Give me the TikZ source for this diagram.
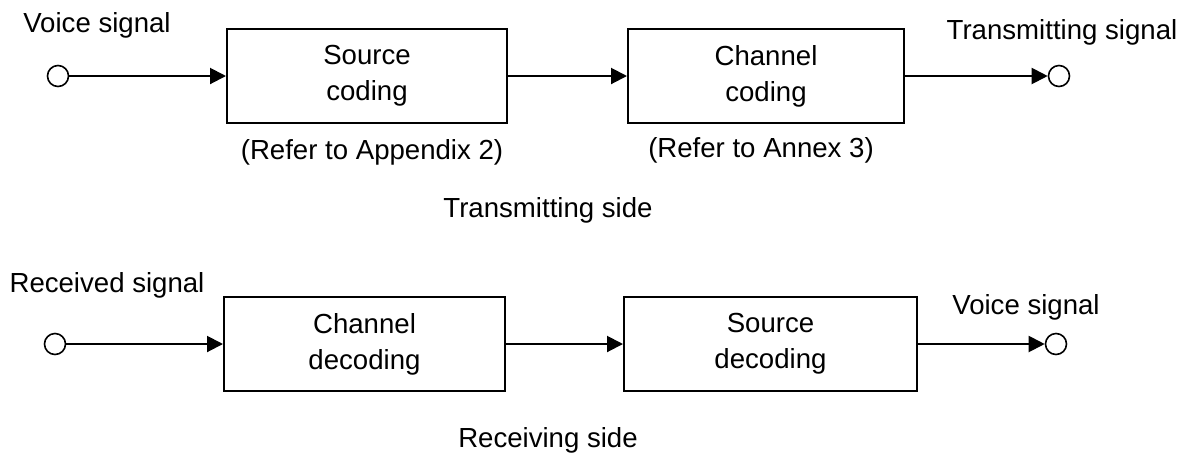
\documentclass[tikz,border=0pt]{standalone}
\usepackage{fontspec}
\setmainfont{Liberation Sans}
\usetikzlibrary{arrows.meta}

\begin{document}
\begin{tikzpicture}[
    x=0.5pt, y=-0.5pt,
    font=\fontsize{13.8}{18}\selectfont,
    box/.style={
        rectangle,
        draw,
        line width=1pt,
        minimum height=47pt,
        align=center
    },
    port/.style={
        circle,
        draw,
        line width=0.8pt,
        inner sep=0pt,
        minimum size=10.5pt
    },
    arrow/.style={-{Triangle[length=8pt,width=8pt]}, line width=1pt}
]
\useasboundingbox (0,0) rectangle (1194,452);

% Transmitting side
\node[port] (voicein) at (58,76) {};
\node[box, minimum width=140pt] (srccod) at (367,76) {Source\\coding};
\node[box, minimum width=138pt] (chncod) at (766,76) {Channel\\coding};
\node[port] (txout) at (1059,76) {};

\node (voiceinlbl) at (97,25) {Voice signal};
\node (txoutlbl) at (1062,32) {Transmitting signal};
\node (srcref) at (372,152) {(Refer to Appendix 2)};
\node (chnref) at (761,150) {(Refer to Annex 3)};
\node (txside) at (548,210) {Transmitting side};

% Receiving side
\node[port] (rxin) at (55,344) {};
\node[box, minimum width=140.5pt] (chndec) at (364.5,344) {Channel\\decoding};
\node[box, minimum width=146.5pt] (srcdec) at (770.5,344) {Source\\decoding};
\node[port] (voiceout) at (1056,344) {};

\node (rxinlbl) at (107,285) {Received signal};
\node (voiceoutlbl) at (1026,307) {Voice signal};
\node (rxside) at (548,440) {Receiving side};

% Arrows
\draw[arrow] (voicein) -- (srccod);
\draw[arrow] (srccod) -- (chncod);
\draw[arrow] (chncod) -- (txout);
\draw[arrow] (rxin) -- (chndec);
\draw[arrow] (chndec) -- (srcdec);
\draw[arrow] (srcdec) -- (voiceout);

\end{tikzpicture}
\end{document}
